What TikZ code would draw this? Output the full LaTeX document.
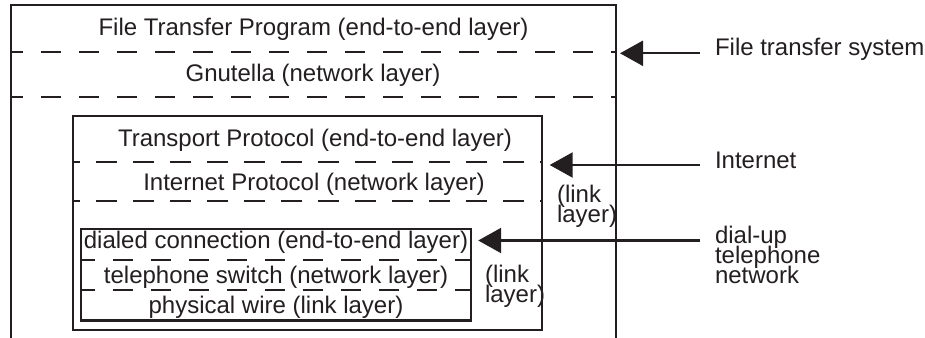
\documentclass[tikz,border=0pt]{standalone}
\usepackage{fontspec}
\setmainfont{Liberation Sans}
\usetikzlibrary{arrows.meta,calc}
\definecolor{ink}{HTML}{231F20}
\newcommand{\labelfont}{\fontsize{24}{20}\selectfont\lineskiplimit=-50pt\relax}
\begin{document}
\begin{tikzpicture}[x=1pt,y=-1pt,
  every node/.style={inner sep=0pt,outer sep=0pt,text=ink},
  lbl/.style={font=\labelfont},
  frame/.style={draw=ink,line width=2.3pt},
  boxnode/.style={draw=ink,line width=2.3pt,rectangle},
  divider/.style={draw=ink,line width=2.3pt,dash pattern=on 20pt off 18pt},
  arr/.style={draw=ink,line width=2.3pt,-{Triangle[length=23pt,width=25pt]}}]
\useasboundingbox (0,0) rectangle (925,337);
\fill[white] (0,0) rectangle (925,337);

% outer frame (open at the bottom)
\coordinate (oBL) at (11,340);
\coordinate (oTL) at (11,5);
\coordinate (oTR) at (616,5);
\coordinate (oBR) at (616,340);
\draw[frame] (oBL) -- (oTL) -- (oTR) -- (oBR);
\draw[divider,dash phase=8pt] (11,52) -- (616,52);
\draw[divider,dash phase=8pt] (11,97) -- (616,97);
\node[lbl,anchor=base] (ftp) at (313.5,35.7) {File Transfer Program (end-to-end layer)};
\node[lbl,anchor=base] (gnu) at (313,81.7) {Gnutella (network layer)};

% middle box
\node[boxnode,minimum width=468.4pt,minimum height=214pt] (mid) at (307.5,223) {};
\draw[divider,dash pattern=on 21pt off 16pt,dash phase=14pt] (73.3,161.7) -- (541.7,161.7);
\draw[divider,dash pattern=on 21pt off 16pt,dash phase=14pt] (73.3,200.7) -- (541.7,200.7);
\node[lbl,anchor=base] (tp) at (315,146.7) {Transport Protocol (end-to-end layer)};
\node[lbl,anchor=base] (ip) at (314,190) {Internet Protocol (network layer)};
\node[lbl,anchor=north west,align=left] (ll1) at (557,185) {(link\\layer)};

% inner box
\node[boxnode,minimum width=390pt,minimum height=91.5pt] (inner) at (275.7,274.75) {};
\draw[divider,dash phase=6pt] (80.7,260) -- (470.7,260);
\draw[divider,dash phase=6pt] (80.7,290) -- (470.7,290);
\node[lbl,anchor=base] (dc) at (276,248.5) {dialed connection (end-to-end layer)};
\node[lbl,anchor=base] (ts) at (276,283.3) {telephone switch (network layer)};
\node[lbl,anchor=base] (pw) at (276,313.5) {physical wire (link layer)};
\node[lbl,anchor=north west,align=left] (ll2) at (485,265) {(link\\layer)};

% right-hand labels
\node[lbl,anchor=base west] (fts) at (715,56) {File transfer system};
\node[lbl,anchor=base west] (inet) at (715,168.3) {Internet};
\node[lbl,anchor=north west,align=left] (dial) at (715,226.5) {dial-up\\telephone\\network};

\coordinate (tailA) at ([xshift=-15pt,yshift=2.7pt]fts.base west);
\coordinate (tailB) at ([xshift=-15pt,yshift=3.3pt]inet.base west);
\coordinate (tailC) at ([xshift=-15pt,yshift=-14pt]dial.north west);
\coordinate (tipA) at ($(oTR |- tailA)+(4,0)$);
\coordinate (tipB) at ($(mid.east |- tailB)+(8,0)$);
\coordinate (tipC) at ($(inner.east |- tailC)+(7.5,0)$);
\draw[arr] (tailA) -- (tipA);
\draw[arr] (tailB) -- (tipB);
\draw[arr] (tailC) -- (tipC);
\end{tikzpicture}
\end{document}
